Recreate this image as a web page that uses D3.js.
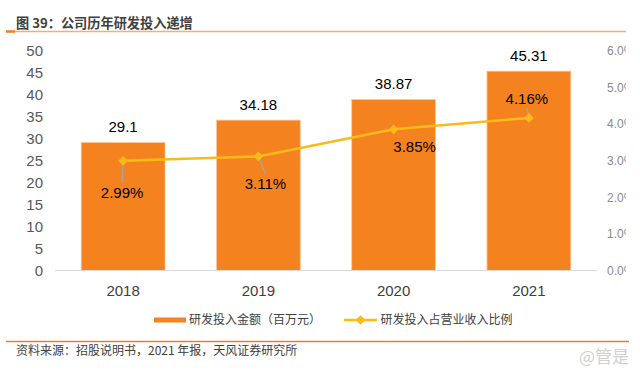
<!DOCTYPE html>
<html><head><meta charset="utf-8">
<script src="https://cdn.jsdelivr.net/npm/d3@7/dist/d3.min.js"></script>
<style>
html,body{margin:0;padding:0;background:#fff;}
svg{display:block;font-family:"Liberation Sans",Arial,"Noto Sans CJK SC",sans-serif;}
.cjk{font-family:"Noto Sans CJK SC","Liberation Sans",sans-serif;}
</style></head>
<body>
<svg id="c" width="640" height="378"></svg>
<script>
const categories = ["2018", "2019", "2020", "2021"];
const rdAmount = [29.1, 34.18, 38.87, 45.31];
const rdRatio = [0.0299, 0.0311, 0.0385, 0.0416];
const leftTicks = [0, 5, 10, 15, 20, 25, 30, 35, 40, 45, 50];
const rightTicks = [0, 0.01, 0.02, 0.03, 0.04, 0.05, 0.06];
const seriesNames = ["研发投入金额（百万元）", "研发投入占营业收入比例"];
const titleText = "图 39：公司历年研发投入递增";
const sourceText = "资料来源：招股说明书，2021 年报，天风证券研究所";
// layout of percent labels relative to points: [dx, dy, leader]
const ratioLabelOffsets = [[-1, 32, true], [7, 27, true], [21, 17.5, false], [-2, -19.5, true]];

const svg = d3.select("#c");
const BAR = "#F4831F", LINE = "#FBBA1B";

const x = d3.scaleBand().domain(categories).range([55.5, 596.5]).paddingInner(0.38).paddingOuter(0.19);
const yL = d3.scaleLinear().domain([0, 50]).range([270.5, 50.5]);
const yR = d3.scaleLinear().domain([0, 0.06]).range([270.5, 50.5]);

// title
svg.append("text").attr("class","cjk").attr("x",16).attr("y",27.5)
  .attr("font-size",13.2).attr("font-weight","bold").attr("fill","#404040").text(titleText);
svg.append("line").attr("x1",6).attr("x2",626).attr("y1",31.5).attr("y2",31.5)
  .attr("stroke","#F6AD6E").attr("stroke-width",1.5);
svg.append("line").attr("x1",6).attr("x2",15).attr("y1",31.5).attr("y2",31.5)
  .attr("stroke","#EE7F2D").attr("stroke-width",2.5);

// left axis
const gL = svg.append("g").attr("transform","translate(43,0)")
  .call(d3.axisLeft(yL).tickValues(leftTicks).tickSize(0).tickPadding(0));
gL.select(".domain").remove();
gL.selectAll("text").attr("font-size",15).attr("fill","#595959").attr("font-family","Liberation Sans, Arial, sans-serif");

// right axis (clipped at right edge like reference)
svg.append("clipPath").attr("id","rclip").append("rect").attr("x",590).attr("y",0).attr("width",36).attr("height",378);
const gR = svg.append("g").attr("clip-path","url(#rclip)").append("g").attr("transform","translate(607,0)")
  .call(d3.axisRight(yR).tickValues(rightTicks).tickFormat(d3.format(".1%")).tickSize(0).tickPadding(0));
gR.select(".domain").remove();
gR.selectAll("text").attr("font-size",12).attr("fill","#8a8a8a").attr("font-family","Liberation Sans, Arial, sans-serif");

// bars
svg.append("g").selectAll("rect").data(rdAmount).join("rect")
  .attr("x",(d,i)=>x(categories[i])).attr("width",x.bandwidth())
  .attr("y",d=>yL(d)).attr("height",d=>yL(0)-yL(d))
  .attr("fill",BAR).attr("stroke","#FAC9A0").attr("stroke-width",0.8);

// baseline
svg.append("line").attr("x1",55).attr("x2",597).attr("y1",270.5).attr("y2",270.5)
  .attr("stroke","#D9D9D9").attr("stroke-width",1.2);

// bar labels
svg.append("g").selectAll("text").data(rdAmount).join("text")
  .attr("x",(d,i)=>x(categories[i])+x.bandwidth()/2).attr("y",d=>yL(d)-10.5)
  .attr("text-anchor","middle").attr("font-size",15).attr("fill","#000")
  .text(d=>String(d));

// category labels
svg.append("g").selectAll("text").data(categories).join("text")
  .attr("x",d=>x(d)+x.bandwidth()/2).attr("y",295.5)
  .attr("text-anchor","middle").attr("font-size",15).attr("fill","#404040").text(d=>d);

// line
const px = i => x(categories[i]) + x.bandwidth()/2;
const line = d3.line().x((d,i)=>px(i)).y(d=>yR(d));
svg.append("path").datum(rdRatio).attr("d",line).attr("fill","none")
  .attr("stroke",LINE).attr("stroke-width",2.5);

// leaders
rdRatio.forEach((d,i)=>{
  const o = ratioLabelOffsets[i];
  if(!o[2]) return;
  const lx = px(i)+o[0], ly = yR(d)+o[1] + (o[1]>0 ? -10 : 9.5);
  svg.append("line").attr("x1",px(i)).attr("y1",yR(d)).attr("x2",lx).attr("y2",ly)
    .attr("stroke","#A6A6A6").attr("stroke-width",1.3);
});

// markers
const diamond = d3.symbol().type(d3.symbolDiamond2 || d3.symbolDiamond).size(60);
svg.append("g").selectAll("path").data(rdRatio).join("path")
  .attr("transform",(d,i)=>`translate(${px(i)},${yR(d)})`)
  .attr("d",diamond).attr("fill",LINE);

// ratio labels
svg.append("g").selectAll("text").data(rdRatio).join("text")
  .attr("x",(d,i)=>px(i)+ratioLabelOffsets[i][0]).attr("y",(d,i)=>yR(d)+ratioLabelOffsets[i][1]+5.5)
  .attr("text-anchor","middle").attr("font-size",15).attr("fill","#000")
  .text(d=>d3.format(".2%")(d));

// legend
const lg = svg.append("g");
lg.append("rect").attr("x",154).attr("y",317.5).attr("width",32).attr("height",5).attr("fill",BAR);
lg.append("text").attr("class","cjk").attr("x",189).attr("y",324.3).attr("font-size",12).attr("fill","#404040").text(seriesNames[0]);
lg.append("line").attr("x1",344).attr("x2",377).attr("y1",320).attr("y2",320).attr("stroke",LINE).attr("stroke-width",2.5);
lg.append("path").attr("transform","translate(360.5,320)").attr("d",diamond).attr("fill",LINE);
lg.append("text").attr("class","cjk").attr("x",380.5).attr("y",324.3).attr("font-size",12).attr("fill","#404040").text(seriesNames[1]);

// footer
svg.append("line").attr("x1",6).attr("x2",629).attr("y1",341.5).attr("y2",341.5)
  .attr("stroke","#EE7D31").attr("stroke-width",1.5);
svg.append("text").attr("class","cjk").attr("x",16).attr("y",355).attr("font-size",12).attr("fill","#404040").text(sourceText);
svg.append("text").attr("class","cjk").attr("x",629).attr("y",363).attr("text-anchor","end")
  .attr("font-size",17).attr("fill","#D0D0D0").text("@管是");
</script>
</body></html>
